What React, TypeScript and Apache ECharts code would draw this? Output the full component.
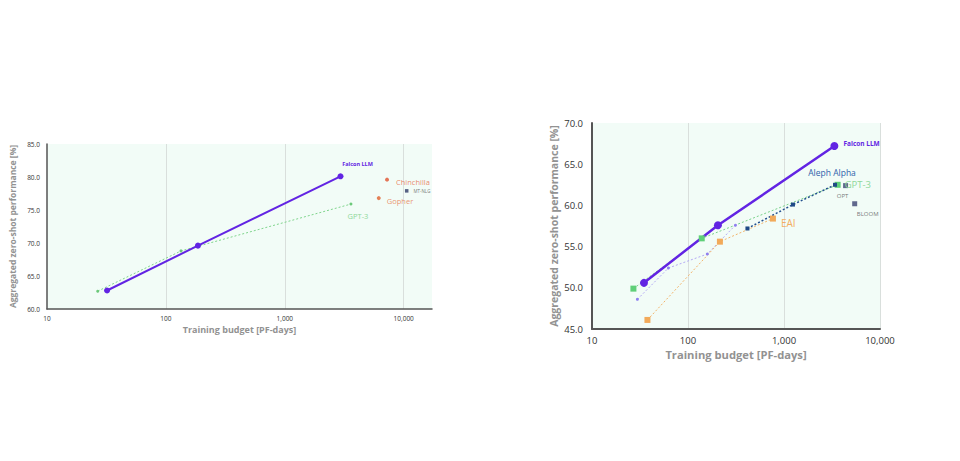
import React, { useEffect, useRef } from "react";
import * as echarts from "echarts";

// ---------- Left chart data ----------
const leftFalconX = [32, 186, 2940];
const leftFalconY = [62.8, 69.6, 80.1];
const leftGpt3X = [26.7, 134, 3600];
const leftGpt3Y = [62.7, 68.8, 75.9];
const leftChinchillaX = [7240];
const leftChinchillaY = [79.6];
const leftGopherX = [6170];
const leftGopherY = [76.8];
const leftMtnlgX = [10600];
const leftMtnlgY = [77.9];
const leftYTicks = { min: 60, max: 85, interval: 5 };
const leftXRange = { min: 10, max: 17300 };

// ---------- Right chart data ----------
const rightFalconX = [34.8, 205, 3350];
const rightFalconY = [50.6, 57.6, 67.2];
const rightGpt3X = [27, 139, 3620];
const rightGpt3Y = [49.9, 56.0, 62.5];
const rightPythiaX = [29.7, 62.5, 159, 312];
const rightPythiaY = [48.6, 52.4, 54.1, 57.6];
const rightEaiX = [37.8, 215, 767];
const rightEaiY = [46.1, 55.6, 58.4];
const rightAlephX = [416, 1240, 3400];
const rightAlephY = [57.2, 60.1, 62.5];
const rightOptX = [4380];
const rightOptY = [62.4];
const rightBloomX = [5450];
const rightBloomY = [60.2];
const rightYTicks = { min: 45, max: 70, interval: 5 };
const rightXRange = { min: 10, max: 10000 };

const xTitle = "Training budget [PF-days]";
const yTitle = "Aggregated zero-shot performance [%]";

const zip = (xs: number[], ys: number[]) => xs.map((x, i) => [x, ys[i]]);

const FONT = "'Open Sans', 'DejaVu Sans', sans-serif";
const PURPLE = "#6224e3";
const GREEN = "#7fd48c";

const logLabel = (v: number) => {
  const l = Math.log10(v);
  if (Math.abs(l - Math.round(l)) > 1e-6) return "";
  return Math.round(v).toLocaleString("en-US");
};

export default function App() {
  const ref = useRef<HTMLDivElement>(null);
  useEffect(() => {
    if (!ref.current) return;
    const chart = echarts.init(ref.current, undefined, { renderer: "svg" });

    const withLastLabel = (data: number[][], label: any) =>
      data.map((p, i) =>
        i === data.length - 1 ? { value: p, label: { show: true, ...label } } : { value: p }
      );

    const xAxisBase = (small: boolean) => ({
      type: "log" as const,
      logBase: 10,
      nameLocation: "middle" as const,
      name: xTitle,
      nameTextStyle: {
        fontFamily: FONT,
        fontWeight: "bold" as const,
        color: "#929292",
        fontSize: small ? 9 : 11.2,
      },
      nameGap: small ? 16 : 20,
      axisLine: { show: true, lineStyle: { color: "#555", width: small ? 1.5 : 2 } },
      axisTick: { show: false },
      axisLabel: {
        formatter: logLabel,
        fontFamily: FONT,
        fontSize: small ? 6.5 : 9.5,
        color: "#333",
        margin: 6,
        showMaxLabel: !small,
      },
      splitLine: {
        show: true,
        showMinLine: false,
        showMaxLine: !small,
        lineStyle: { color: "#d9dfdc", width: 1 },
      },
    });

    const yAxisBase = (small: boolean, t: { min: number; max: number; interval: number }) => ({
      type: "value" as const,
      min: t.min,
      max: t.max,
      interval: t.interval,
      name: yTitle,
      nameLocation: "middle" as const,
      nameRotate: 90,
      nameGap: small ? 30 : 33,
      nameTextStyle: {
        fontFamily: FONT,
        fontWeight: "bold" as const,
        color: "#929292",
        fontSize: small ? 8.5 : 10.5,
      },
      axisLine: { show: true, lineStyle: { color: "#555", width: small ? 1.5 : 2 } },
      axisTick: { show: false },
      splitLine: { show: false },
      axisLabel: {
        formatter: (v: number) => v.toFixed(1),
        fontFamily: FONT,
        fontSize: small ? 6.5 : 9.5,
        color: "#333",
        margin: small ? 7 : 9,
      },
    });

    const option: any = {
      animation: false,
      backgroundColor: "#ffffff",
      grid: [
        {
          left: 47,
          top: 144,
          width: 385,
          height: 165,
          show: true,
          backgroundColor: "#f2fcf7",
          borderWidth: 0,
        },
        {
          left: 592,
          top: 123,
          width: 288,
          height: 206,
          show: true,
          backgroundColor: "#f2fcf7",
          borderWidth: 0,
        },
      ],
      xAxis: [
        { ...xAxisBase(true), gridIndex: 0, min: leftXRange.min, max: leftXRange.max },
        { ...xAxisBase(false), gridIndex: 1, min: rightXRange.min, max: rightXRange.max },
      ],
      yAxis: [
        { ...yAxisBase(true, leftYTicks), gridIndex: 0 },
        { ...yAxisBase(false, rightYTicks), gridIndex: 1 },
      ],
      series: [
        // ----- left -----
        {
          name: "GPT-3",
          type: "line",
          xAxisIndex: 0,
          yAxisIndex: 0,
          data: withLastLabel(zip(leftGpt3X, leftGpt3Y), {
            formatter: "GPT-3",
            position: "bottom",
            offset: [7, 1],
            color: "#8fd89a",
            fontSize: 7.5,
            fontFamily: FONT,
          }),
          symbol: "circle",
          symbolSize: 3,
          itemStyle: { color: "#6cc97a" },
          lineStyle: { color: GREEN, width: 1, type: [2, 2] },
        },
        {
          name: "Falcon LLM",
          type: "line",
          xAxisIndex: 0,
          yAxisIndex: 0,
          data: withLastLabel(zip(leftFalconX, leftFalconY), {
            formatter: "Falcon LLM",
            position: "top",
            offset: [17, -1],
            color: PURPLE,
            fontWeight: "bold",
            fontSize: 5.5,
            fontFamily: FONT,
          }),
          symbol: "circle",
          symbolSize: 6,
          itemStyle: { color: PURPLE },
          lineStyle: { color: PURPLE, width: 2 },
        },
        {
          name: "Chinchilla",
          type: "scatter",
          xAxisIndex: 0,
          yAxisIndex: 0,
          data: zip(leftChinchillaX, leftChinchillaY),
          symbol: "circle",
          symbolSize: 4,
          itemStyle: { color: "#e0532e" },
          label: {
            show: true,
            formatter: "Chinchilla",
            position: "right",
            offset: [2, 2],
            color: "#e76a47",
            fontSize: 7.5,
            fontFamily: FONT,
          },
        },
        {
          name: "Gopher",
          type: "scatter",
          xAxisIndex: 0,
          yAxisIndex: 0,
          data: zip(leftGopherX, leftGopherY),
          symbol: "circle",
          symbolSize: 4,
          itemStyle: { color: "#e0612e" },
          label: {
            show: true,
            formatter: "Gopher",
            position: "right",
            offset: [1, 3],
            color: "#e77a4e",
            fontSize: 7.5,
            fontFamily: FONT,
          },
        },
        {
          name: "MT-NLG",
          type: "scatter",
          xAxisIndex: 0,
          yAxisIndex: 0,
          data: zip(leftMtnlgX, leftMtnlgY),
          symbol: "rect",
          symbolSize: 3.5,
          itemStyle: { color: "#2e3a66" },
          label: {
            show: true,
            formatter: "MT-NLG",
            position: "right",
            offset: [0, 0],
            color: "#555",
            fontSize: 4.5,
            fontFamily: FONT,
          },
        },
        // ----- right -----
        {
          name: "Pythia",
          type: "line",
          xAxisIndex: 1,
          yAxisIndex: 1,
          data: zip(rightPythiaX, rightPythiaY),
          symbol: "circle",
          symbolSize: 3,
          itemStyle: { color: "#8f7ff0" },
          lineStyle: { color: "#b3a8f3", width: 1, type: [2, 2] },
        },
        {
          name: "EAI",
          type: "line",
          xAxisIndex: 1,
          yAxisIndex: 1,
          data: withLastLabel(zip(rightEaiX, rightEaiY), {
            formatter: "EAI",
            position: "right",
            offset: [0, 4],
            color: "#f2ad62",
            fontSize: 10,
            fontFamily: FONT,
          }),
          symbol: "rect",
          symbolSize: 6,
          itemStyle: { color: "#f2aa5a" },
          lineStyle: { color: "#f2b36a", width: 1, type: [2, 2] },
        },
        {
          name: "GPT-3",
          type: "line",
          xAxisIndex: 1,
          yAxisIndex: 1,
          data: withLastLabel(zip(rightGpt3X, rightGpt3Y), {
            formatter: "GPT-3",
            position: "right",
            offset: [-1, 0],
            color: "#8fd89a",
            fontSize: 9.5,
            fontFamily: FONT,
          }),
          symbol: "rect",
          symbolSize: 6,
          itemStyle: { color: "#5fcf78" },
          lineStyle: { color: "#78d189", width: 1, type: [2, 2] },
        },
        {
          name: "Aleph Alpha",
          type: "line",
          xAxisIndex: 1,
          yAxisIndex: 1,
          data: withLastLabel(zip(rightAlephX, rightAlephY), {
            formatter: "Aleph Alpha",
            position: "top",
            offset: [-3, -1],
            color: "#2f62ab",
            fontSize: 8.5,
            fontFamily: FONT,
          }),
          symbol: "rect",
          symbolSize: 4,
          itemStyle: { color: "#1f4a86" },
          lineStyle: { color: "#23508f", width: 1.5, type: [2, 2] },
        },
        {
          name: "Falcon LLM",
          type: "line",
          xAxisIndex: 1,
          yAxisIndex: 1,
          data: withLastLabel(zip(rightFalconX, rightFalconY), {
            formatter: "Falcon LLM",
            position: "right",
            offset: [0, -3],
            color: PURPLE,
            fontWeight: "bold",
            fontSize: 6.5,
            fontFamily: FONT,
          }),
          symbol: "circle",
          symbolSize: 8,
          itemStyle: { color: PURPLE },
          lineStyle: { color: PURPLE, width: 2.5 },
        },
        {
          name: "OPT",
          type: "scatter",
          xAxisIndex: 1,
          yAxisIndex: 1,
          data: zip(rightOptX, rightOptY),
          symbol: "rect",
          symbolSize: 5,
          itemStyle: { color: "#3b4272" },
          label: {
            show: true,
            formatter: "OPT",
            position: "bottom",
            offset: [-3, 0],
            color: "#555",
            fontSize: 6,
            fontFamily: FONT,
          },
        },
        {
          name: "BLOOM",
          type: "scatter",
          xAxisIndex: 1,
          yAxisIndex: 1,
          data: zip(rightBloomX, rightBloomY),
          symbol: "rect",
          symbolSize: 5,
          itemStyle: { color: "#3b4272" },
          label: {
            show: true,
            formatter: "BLOOM",
            position: "bottom",
            offset: [13, 0],
            color: "#555",
            fontSize: 6,
            fontFamily: FONT,
          },
        },
      ],
    };
    chart.setOption(option);
    return () => chart.dispose();
  }, []);

  return (
    <div
      ref={ref}
      style={{ position: "fixed", left: 0, top: 0, width: 960, height: 461, background: "#fff" }}
    />
  );
}
